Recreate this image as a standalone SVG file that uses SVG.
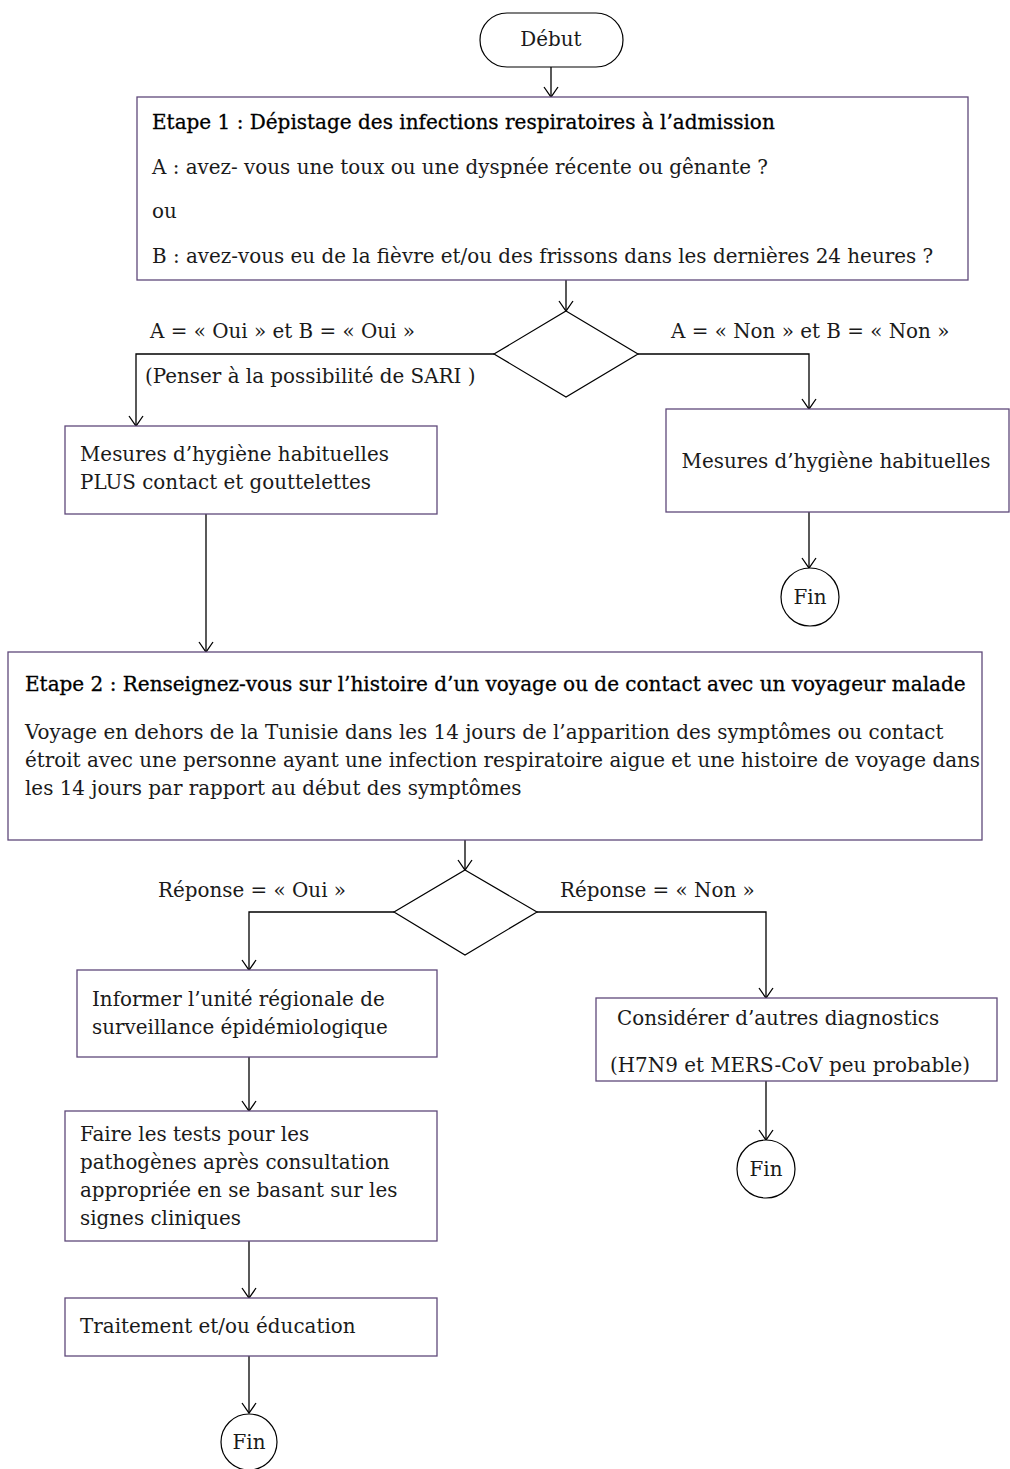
<svg xmlns="http://www.w3.org/2000/svg" width="1010" height="1469" viewBox="0 0 1010 1469">
<style>
  .box { fill: #ffffff; stroke: #5f497a; stroke-width: 1.3; }
  .shape { fill: #ffffff; stroke: #000000; stroke-width: 1.2; }
  .line { fill: none; stroke: #000000; stroke-width: 1.3; }
  text { font-family: "DejaVu Serif", "Liberation Serif", serif; font-size: 19.9px; fill: #1a1a1a; dominant-baseline: central; }
  .title { font-size: 20px; fill: #000000; stroke: #000000; stroke-width: 0.3; }
  .mid { text-anchor: middle; }
</style>
<defs>
  <marker id="arrow" viewBox="-1 -1 12 16" refX="10" refY="7" markerWidth="12" markerHeight="16" markerUnits="userSpaceOnUse" orient="auto" overflow="visible">
    <polyline points="0,0 10,7 0,14" fill="none" stroke="#000000" stroke-width="1.3"/>
  </marker>
</defs>
<rect width="1010" height="1469" fill="#ffffff"/>

<g id="connectors">
  <line class="line" x1="551" y1="67" x2="551" y2="97" marker-end="url(#arrow)"/>
  <line class="line" x1="566" y1="280" x2="566" y2="311" marker-end="url(#arrow)"/>
  <polyline class="line" points="494,354 136,354 136,426" marker-end="url(#arrow)"/>
  <polyline class="line" points="638,354 809,354 809,409" marker-end="url(#arrow)"/>
  <line class="line" x1="809" y1="512" x2="809" y2="568" marker-end="url(#arrow)"/>
  <line class="line" x1="206" y1="514" x2="206" y2="652" marker-end="url(#arrow)"/>
  <line class="line" x1="465" y1="840" x2="465" y2="870" marker-end="url(#arrow)"/>
  <polyline class="line" points="394,912 249,912 249,970" marker-end="url(#arrow)"/>
  <polyline class="line" points="537,912 766,912 766,998" marker-end="url(#arrow)"/>
  <line class="line" x1="766" y1="1081" x2="766" y2="1140" marker-end="url(#arrow)"/>
  <line class="line" x1="249" y1="1057" x2="249" y2="1111" marker-end="url(#arrow)"/>
  <line class="line" x1="249" y1="1241" x2="249" y2="1298" marker-end="url(#arrow)"/>
  <line class="line" x1="249" y1="1356" x2="249" y2="1413" marker-end="url(#arrow)"/>
</g>

<g id="start">
  <rect class="shape" x="480" y="13" width="143" height="54" rx="27" ry="27"/>
  <text class="mid" x="551" y="39">Début</text>
</g>

<g id="step1">
  <rect class="box" x="137" y="97" width="831" height="183"/>
  <text class="title" x="152" y="122">Etape 1 : Dépistage des infections respiratoires à l’admission</text>
  <text x="152" y="167">A : avez- vous une toux ou une dyspnée récente ou gênante ?</text>
  <text x="152" y="211">ou</text>
  <text x="152" y="256">B : avez-vous eu de la fièvre et/ou des frissons dans les dernières 24 heures ?</text>
</g>

<g id="decision1">
  <polygon class="shape" points="566,311 638,354 566,397 494,354"/>
  <text x="150" y="331">A = « Oui » et B = « Oui »</text>
  <text x="145" y="376">(Penser à la possibilité de SARI )</text>
  <text x="671" y="331">A = « Non » et B = « Non »</text>
</g>

<g id="hygiene-plus">
  <rect class="box" x="65" y="426" width="372" height="88"/>
  <text x="80" y="454">Mesures d’hygiène habituelles</text>
  <text x="80" y="482">PLUS contact et gouttelettes</text>
</g>

<g id="hygiene">
  <rect class="box" x="666" y="409" width="343" height="103"/>
  <text class="mid" x="836" y="461">Mesures d’hygiène habituelles</text>
</g>

<g id="end1">
  <circle class="shape" cx="810" cy="597" r="29"/>
  <text class="mid" x="810" y="597">Fin</text>
</g>

<g id="step2">
  <rect class="box" x="8" y="652" width="974" height="188"/>
  <text class="title" x="25" y="684">Etape 2 : Renseignez-vous sur l’histoire d’un voyage ou de contact avec un voyageur malade</text>
  <text x="25" y="732">Voyage en dehors de la Tunisie dans les 14 jours de l’apparition des symptômes ou contact</text>
  <text x="25" y="760">étroit avec une personne ayant une infection respiratoire aigue et une histoire de voyage dans</text>
  <text x="25" y="788">les 14 jours par rapport au début des symptômes</text>
</g>

<g id="decision2">
  <polygon class="shape" points="465,870 537,912 465,955 394,912"/>
  <text x="158" y="890">Réponse = « Oui »</text>
  <text x="560" y="890">Réponse = « Non »</text>
</g>

<g id="inform">
  <rect class="box" x="77" y="970" width="360" height="87"/>
  <text x="92" y="999">Informer l’unité régionale de</text>
  <text x="92" y="1027">surveillance épidémiologique</text>
</g>

<g id="other-diagnostics">
  <rect class="box" x="596" y="998" width="401" height="83"/>
  <text x="617" y="1018">Considérer d’autres diagnostics</text>
  <text x="610" y="1065">(H7N9 et MERS-CoV peu probable)</text>
</g>

<g id="end2">
  <circle class="shape" cx="766" cy="1169" r="29"/>
  <text class="mid" x="766" y="1169">Fin</text>
</g>

<g id="tests">
  <rect class="box" x="65" y="1111" width="372" height="130"/>
  <text x="80" y="1134">Faire les tests pour les</text>
  <text x="80" y="1162">pathogènes après consultation</text>
  <text x="80" y="1190">appropriée en se basant sur les</text>
  <text x="80" y="1218">signes cliniques</text>
</g>

<g id="treatment">
  <rect class="box" x="65" y="1298" width="372" height="58"/>
  <text x="80" y="1326">Traitement et/ou éducation</text>
</g>

<g id="end3">
  <circle class="shape" cx="249" cy="1442" r="28"/>
  <text class="mid" x="249" y="1442">Fin</text>
</g>
</svg>
